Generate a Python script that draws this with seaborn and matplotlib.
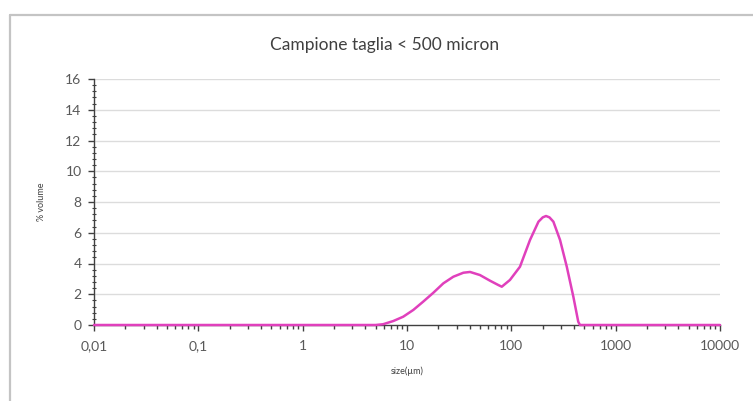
import numpy as np
import pandas as pd
import matplotlib
matplotlib.use("Agg")
import matplotlib.pyplot as plt
from matplotlib.ticker import FixedLocator, FixedFormatter, LogLocator, MultipleLocator, NullFormatter
from matplotlib.lines import Line2D
import seaborn as sns

# Particle size distribution (size in µm, % volume)
size_um = [0.01, 1.0, 5.0, 5.9, 7.4, 9.2, 11.5, 14.3, 17.9, 22.3, 27.8, 34.7, 40.2,
           50.0, 62.5, 75.0, 81.0, 97.0, 121.0, 151.0, 182.0, 200.0, 215.0, 232.0,
           253.0, 293.0, 340.0, 393.0, 438.0, 455.0, 1000.0, 10000.0]
volume_pct = [0.0, 0.0, 0.0, 0.05, 0.26, 0.54, 0.98, 1.52, 2.10, 2.71, 3.14, 3.40, 3.45,
              3.25, 2.88, 2.60, 2.49, 2.93, 3.79, 5.53, 6.72, 7.00, 7.09, 7.00,
              6.72, 5.53, 3.79, 1.84, 0.21, 0.0, 0.0, 0.0]

x_ticks = [0.01, 0.1, 1, 10, 100, 1000, 10000]
x_tick_labels = ["0,01", "0,1", "1", "10", "100", "1000", "10000"]
y_ticks = [0, 2, 4, 6, 8, 10, 12, 14, 16]

title = "Campione taglia < 500 micron"
x_label = "size(µm)"
y_label = "% volume"

sns.set_style("white")
plt.rcParams["font.family"] = ["Lato", "DejaVu Sans"]

df = pd.DataFrame({"size": size_um, "volume": volume_pct})

fig = plt.figure(figsize=(7.53, 4.01), dpi=100)
fig.patch.set_edgecolor("none")
fig.patch.set_linewidth(0)
ax = fig.add_axes([94 / 753, 1 - 325 / 401, (720 - 94) / 753, (325 - 79) / 401])

# chart-area frame: top and left edges only
frame_x = 10 / 753
frame_y = 1 - 15 / 401
fig.add_artist(Line2D([frame_x, 1.1], [frame_y, frame_y], transform=fig.transFigure,
                      color="#c4c4c4", linewidth=1.6, zorder=0))
fig.add_artist(Line2D([frame_x, frame_x], [-0.1, frame_y], transform=fig.transFigure,
                      color="#c4c4c4", linewidth=1.6, zorder=0))

ax.set_xscale("log")
ax.set_xlim(0.01, 10000)
ax.set_ylim(0, 16)

for v in y_ticks[1:]:
    ax.axhline(v, color="#dcdcdc", linewidth=1.0, zorder=0)

sns.lineplot(data=df, x="size", y="volume", ax=ax, color="#e040bc",
             linewidth=1.8, zorder=3, clip_on=False)

ax.xaxis.set_major_locator(FixedLocator(x_ticks))
ax.xaxis.set_major_formatter(FixedFormatter(x_tick_labels))
ax.xaxis.set_minor_locator(LogLocator(base=10, subs=np.arange(2, 10)))
ax.xaxis.set_minor_formatter(NullFormatter())
ax.yaxis.set_major_locator(FixedLocator(y_ticks))
ax.yaxis.set_minor_locator(MultipleLocator(0.4))

for side in ["top", "right"]:
    ax.spines[side].set_visible(False)
for side in ["left", "bottom"]:
    ax.spines[side].set_color("#404040")
    ax.spines[side].set_linewidth(1.0)

ax.tick_params(axis="x", which="both", bottom=True, top=False)
ax.tick_params(axis="y", which="both", left=True, right=False)
ax.tick_params(axis="x", which="major", direction="out", length=4, width=1,
               color="#404040", labelsize=10, labelcolor="#595959", pad=7)
ax.tick_params(axis="x", which="minor", direction="out", length=3, width=1,
               color="#404040")
ax.tick_params(axis="y", which="major", direction="out", length=4, width=1,
               color="#404040", labelsize=10, labelcolor="#595959", pad=5)
ax.tick_params(axis="y", which="minor", direction="inout", length=3, width=0.8,
               color="#404040")

ax.set_xlabel(x_label, fontsize=6.5, color="#404040", labelpad=10)
ax.set_ylabel(y_label, fontsize=6.5, color="#404040", labelpad=14)

fig.text(385 / 753, 1 - 45 / 401, title, ha="center", va="center",
         fontsize=12.5, color="#404040")

fig.savefig("out.png", dpi=100, facecolor="white", edgecolor="none")
